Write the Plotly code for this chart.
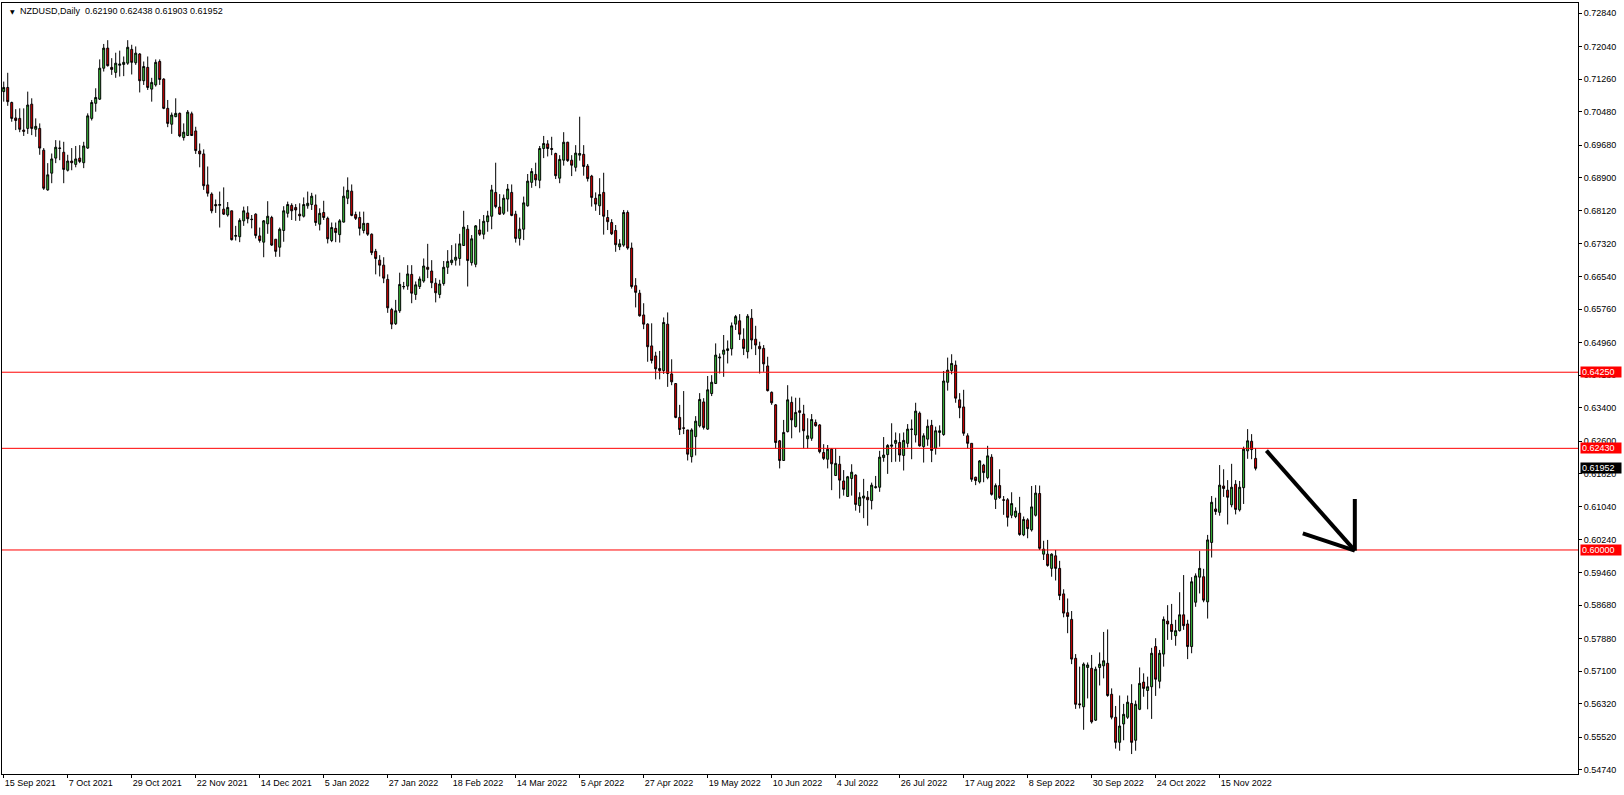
import plotly.graph_objects as go

# ---------------- data (NZDUSD daily) ----------------
opens = [
0.7096,0.7106,0.7070,0.7033,0.7032,0.7004,0.7008,0.7066,0.7006,0.7008,
0.6956,0.6861,0.6901,0.6937,0.6960,0.6951,0.6908,0.6930,0.6922,0.6937,
0.6926,0.6961,0.7032,0.7068,0.7078,0.7152,0.7200,0.7154,0.7142,0.7159,
0.7161,0.7164,0.7197,0.7165,0.7186,0.7122,0.7154,0.7102,0.7112,0.7168,
0.7126,0.7056,0.7018,0.7036,0.7044,0.6986,0.6991,0.7043,0.7002,0.6954,
0.6947,0.6873,0.6851,0.6826,0.6824,0.6815,0.6801,0.6811,0.6750,0.6749,
0.6787,0.6806,0.6791,0.6803,0.6751,0.6736,0.6780,0.6795,0.6743,0.6724,
0.6764,0.6805,0.6824,0.6819,0.6803,0.6798,0.6823,0.6826,0.6825,0.6779,
0.6807,0.6793,0.6740,0.6769,0.6754,0.6784,0.6841,0.6858,0.6802,0.6795,
0.6764,0.6781,0.6755,0.6714,0.6693,0.6681,0.6647,0.6575,0.6541,0.6572,
0.6629,0.6631,0.6659,0.6611,0.6630,0.6643,0.6676,0.6667,0.6638,0.6611,
0.6637,0.6676,0.6687,0.6693,0.6697,0.6728,0.6767,0.6687,0.6683,0.6765,
0.6755,0.6785,0.6798,0.6855,0.6820,0.6805,0.6839,0.6855,0.6803,0.6745,
0.6767,0.6823,0.6879,0.6898,0.6884,0.6960,0.6971,0.6960,0.6948,0.6889,
0.6932,0.6975,0.6932,0.6915,0.6944,0.6946,0.6918,0.6894,0.6841,0.6823,
0.6855,0.6795,0.6783,0.6764,0.6725,0.6729,0.6807,0.6722,0.6632,0.6614,
0.6562,0.6540,0.6488,0.6464,0.6434,0.6429,0.6540,0.6421,0.6398,0.6317,
0.6292,0.6287,0.6223,0.6271,0.6297,0.6354,0.6289,0.6374,0.6398,0.6459,
0.6468,0.6477,0.6481,0.6540,0.6548,0.6504,0.6474,0.6554,0.6504,0.6487,
0.6482,0.6440,0.6377,0.6347,0.6261,0.6214,0.6283,0.6353,0.6295,0.6333,
0.6325,0.6266,0.6267,0.6305,0.6299,0.6233,0.6217,0.6241,0.6178,0.6205,
0.6165,0.6128,0.6171,0.6179,0.6106,0.6124,0.6126,0.6118,0.6149,0.6150,
0.6221,0.6228,0.6248,0.6255,0.6257,0.6226,0.6255,0.6288,0.6275,0.6327,
0.6247,0.6265,0.6298,0.6243,0.6281,0.6276,0.6401,0.6429,0.6442,0.6359,
0.6342,0.6273,0.6255,0.6174,0.6163,0.6203,0.6173,0.6222,0.6121,0.6154,
0.6120,0.6120,0.6083,0.6080,0.6088,0.6036,0.6072,0.6048,0.6083,0.6135,
0.5990,0.5990,0.5956,0.5986,0.5956,0.5895,0.5850,0.5834,0.5741,0.5632,
0.5625,0.5719,0.5717,0.5593,0.5719,0.5723,0.5729,0.5655,0.5600,0.5540,
0.5584,0.5600,0.5633,0.5545,0.5619,0.5684,0.5664,0.5673,0.5769,0.5686,
0.5751,0.5830,0.5822,0.5795,0.5807,0.5845,0.5823,0.5769,0.5875,0.5935,
0.5936,0.5876,0.6018,0.6098,0.6090,0.6153,0.6143,0.6108,0.6157,0.6096,
0.6149,0.6237,0.6260,0.62190]

highs = [
0.7120,0.7141,0.7072,0.7054,0.7056,0.7056,0.7096,0.7080,0.7032,0.7020,
0.6961,0.6925,0.6948,0.6980,0.6979,0.6976,0.6945,0.6961,0.6966,0.6968,
0.6976,0.7044,0.7076,0.7104,0.7173,0.7210,0.7219,0.7176,0.7189,0.7194,
0.7180,0.7219,0.7208,0.7204,0.7188,0.7168,0.7180,0.7129,0.7173,0.7173,
0.7128,0.7076,0.7046,0.7080,0.7046,0.7020,0.7052,0.7048,0.7012,0.6972,
0.6958,0.6917,0.6855,0.6838,0.6857,0.6867,0.6832,0.6811,0.6775,0.6793,
0.6821,0.6822,0.6801,0.6805,0.6771,0.6789,0.6834,0.6799,0.6743,0.6771,
0.6822,0.6833,0.6829,0.6827,0.6829,0.6843,0.6857,0.6854,0.6850,0.6817,
0.6835,0.6797,0.6783,0.6783,0.6791,0.6869,0.6891,0.6874,0.6809,0.6809,
0.6809,0.6781,0.6757,0.6720,0.6705,0.6700,0.6659,0.6579,0.6598,0.6663,
0.6641,0.6681,0.6681,0.6642,0.6654,0.6697,0.6732,0.6693,0.6650,0.6646,
0.6691,0.6717,0.6729,0.6733,0.6756,0.6811,0.6777,0.6753,0.6777,0.6791,
0.6801,0.6811,0.6873,0.6926,0.6851,0.6850,0.6875,0.6874,0.6811,0.6795,
0.6845,0.6899,0.6913,0.6926,0.6966,0.6990,0.6980,0.6988,0.6950,0.6944,
0.6999,0.6976,0.6944,0.6968,0.7036,0.6968,0.6923,0.6897,0.6855,0.6889,
0.6902,0.6813,0.6791,0.6777,0.6743,0.6813,0.6812,0.6735,0.6650,0.6622,
0.6590,0.6542,0.6542,0.6474,0.6476,0.6556,0.6568,0.6456,0.6398,0.6347,
0.6380,0.6287,0.6291,0.6320,0.6375,0.6363,0.6416,0.6418,0.6494,0.6470,
0.6514,0.6501,0.6544,0.6562,0.6564,0.6530,0.6564,0.6576,0.6536,0.6498,
0.6490,0.6462,0.6379,0.6349,0.6263,0.6311,0.6394,0.6367,0.6364,0.6364,
0.6347,0.6315,0.6325,0.6312,0.6301,0.6253,0.6251,0.6243,0.6243,0.6225,
0.6191,0.6177,0.6205,0.6181,0.6138,0.6170,0.6141,0.6161,0.6177,0.6237,
0.6270,0.6253,0.6303,0.6281,0.6279,0.6281,0.6301,0.6312,0.6352,0.6331,
0.6279,0.6312,0.6311,0.6295,0.6298,0.6428,0.6460,0.6468,0.6453,0.6375,
0.6383,0.6279,0.6255,0.6175,0.6215,0.6206,0.6249,0.6229,0.6159,0.6193,
0.6129,0.6124,0.6138,0.6102,0.6127,0.6080,0.6076,0.6153,0.6155,0.6154,
0.6022,0.6024,0.5992,0.6000,0.5974,0.5906,0.5884,0.5854,0.5751,0.5721,
0.5731,0.5731,0.5749,0.5721,0.5755,0.5804,0.5810,0.5669,0.5627,0.5652,
0.5632,0.5652,0.5679,0.5640,0.5719,0.5705,0.5697,0.5766,0.5789,0.5761,
0.5841,0.5868,0.5871,0.5833,0.5899,0.5940,0.5833,0.5935,0.5944,0.5998,
0.5955,0.6036,0.6129,0.6125,0.6203,0.6193,0.6167,0.6206,0.6167,0.6165,
0.6247,0.6289,0.6277,0.62438]

lows = [
0.7072,0.7062,0.7024,0.7004,0.6999,0.6990,0.6995,0.6992,0.6988,0.6945,
0.6861,0.6859,0.6877,0.6925,0.6932,0.6877,0.6905,0.6908,0.6915,0.6925,
0.6913,0.6959,0.7027,0.7048,0.7076,0.7144,0.7156,0.7136,0.7129,0.7132,
0.7133,0.7160,0.7137,0.7160,0.7094,0.7112,0.7100,0.7072,0.7108,0.7112,
0.7054,0.7011,0.6995,0.7035,0.6987,0.6979,0.6990,0.6990,0.6947,0.6915,
0.6861,0.6845,0.6805,0.6806,0.6771,0.6801,0.6797,0.6740,0.6740,0.6736,
0.6775,0.6781,0.6769,0.6745,0.6735,0.6700,0.6756,0.6727,0.6701,0.6701,
0.6737,0.6795,0.6789,0.6787,0.6787,0.6795,0.6816,0.6813,0.6775,0.6764,
0.6789,0.6733,0.6736,0.6736,0.6735,0.6783,0.6827,0.6798,0.6789,0.6752,
0.6757,0.6751,0.6705,0.6659,0.6654,0.6638,0.6567,0.6528,0.6538,0.6567,
0.6623,0.6622,0.6590,0.6598,0.6624,0.6639,0.6650,0.6626,0.6592,0.6602,
0.6632,0.6660,0.6681,0.6680,0.6680,0.6727,0.6630,0.6680,0.6676,0.6751,
0.6743,0.6761,0.6767,0.6817,0.6801,0.6801,0.6809,0.6798,0.6735,0.6728,
0.6741,0.6821,0.6866,0.6870,0.6865,0.6937,0.6941,0.6944,0.6887,0.6877,
0.6919,0.6928,0.6894,0.6905,0.6931,0.6895,0.6881,0.6821,0.6811,0.6801,
0.6754,0.6765,0.6753,0.6713,0.6717,0.6725,0.6718,0.6625,0.6580,0.6558,
0.6528,0.6450,0.6446,0.6408,0.6408,0.6421,0.6390,0.6394,0.6315,0.6275,
0.6277,0.6214,0.6209,0.6226,0.6293,0.6288,0.6287,0.6368,0.6397,0.6422,
0.6414,0.6446,0.6465,0.6526,0.6502,0.6466,0.6458,0.6480,0.6466,0.6422,
0.6426,0.6379,0.6347,0.6243,0.6195,0.6213,0.6281,0.6267,0.6293,0.6281,
0.6243,0.6243,0.6261,0.6295,0.6231,0.6215,0.6195,0.6143,0.6177,0.6123,
0.6130,0.6127,0.6130,0.6094,0.6089,0.6076,0.6058,0.6097,0.6147,0.6139,
0.6211,0.6182,0.6210,0.6211,0.6211,0.6190,0.6245,0.6217,0.6257,0.6247,
0.6209,0.6249,0.6210,0.6228,0.6247,0.6273,0.6381,0.6420,0.6352,0.6315,
0.6273,0.6243,0.6163,0.6155,0.6159,0.6162,0.6169,0.6130,0.6098,0.6122,
0.6084,0.6056,0.6076,0.6076,0.6034,0.6033,0.6028,0.6044,0.6080,0.6000,
0.5976,0.5960,0.5936,0.5927,0.5880,0.5839,0.5801,0.5727,0.5620,0.5621,
0.5570,0.5645,0.5585,0.5591,0.5676,0.5693,0.5649,0.5595,0.5525,0.5520,
0.5545,0.5596,0.5512,0.5520,0.5617,0.5649,0.5619,0.5596,0.5651,0.5669,
0.5721,0.5785,0.5785,0.5771,0.5805,0.5809,0.5739,0.5753,0.5864,0.5896,
0.5875,0.5836,0.5982,0.6084,0.6082,0.6127,0.6061,0.6102,0.6085,0.6092,
0.6110,0.6218,0.6217,0.61903]

closes = [
0.7106,0.7072,0.7032,0.7027,0.7006,0.7001,0.7064,0.7008,0.7013,0.6961,
0.6865,0.6897,0.6935,0.6963,0.6961,0.6910,0.6930,0.6926,0.6935,0.6929,
0.6966,0.7038,0.7070,0.7082,0.7152,0.7200,0.7158,0.7149,0.7164,0.7162,
0.7166,0.7202,0.7166,0.7188,0.7122,0.7156,0.7106,0.7118,0.7166,0.7125,
0.7056,0.7020,0.7040,0.7044,0.6990,0.6999,0.7047,0.6991,0.6955,0.6947,
0.6871,0.6853,0.6811,0.6823,0.6826,0.6803,0.6819,0.6742,0.6752,0.6788,
0.6811,0.6792,0.6790,0.6752,0.6740,0.6787,0.6798,0.6729,0.6714,0.6767,
0.6811,0.6826,0.6811,0.6813,0.6799,0.6826,0.6829,0.6846,0.6783,0.6805,
0.6795,0.6744,0.6771,0.6759,0.6787,0.6846,0.6860,0.6800,0.6793,0.6769,
0.6781,0.6755,0.6711,0.6697,0.6681,0.6650,0.6579,0.6540,0.6572,0.6635,
0.6630,0.6660,0.6614,0.6634,0.6648,0.6679,0.6671,0.6639,0.6615,0.6636,
0.6676,0.6690,0.6693,0.6700,0.6732,0.6772,0.6692,0.6744,0.6775,0.6755,
0.6786,0.6799,0.6861,0.6821,0.6803,0.6841,0.6863,0.6800,0.6745,0.6767,
0.6830,0.6882,0.6905,0.6885,0.6960,0.6972,0.6960,0.6958,0.6895,0.6934,
0.6975,0.6931,0.6920,0.6949,0.6948,0.6917,0.6888,0.6843,0.6827,0.6850,
0.6798,0.6785,0.6756,0.6730,0.6732,0.6807,0.6722,0.6630,0.6616,0.6560,
0.6540,0.6486,0.6453,0.6433,0.6429,0.6544,0.6422,0.6402,0.6317,0.6288,
0.6291,0.6229,0.6287,0.6308,0.6360,0.6293,0.6383,0.6401,0.6466,0.6461,
0.6478,0.6481,0.6536,0.6558,0.6516,0.6482,0.6559,0.6502,0.6490,0.6481,
0.6445,0.6381,0.6352,0.6257,0.6214,0.6281,0.6359,0.6311,0.6329,0.6329,
0.6285,0.6273,0.6312,0.6297,0.6235,0.6219,0.6241,0.6206,0.6207,0.6167,
0.6145,0.6175,0.6186,0.6109,0.6126,0.6129,0.6120,0.6155,0.6151,0.6222,
0.6227,0.6250,0.6251,0.6262,0.6227,0.6262,0.6289,0.6289,0.6332,0.6249,
0.6273,0.6296,0.6238,0.6285,0.6285,0.6404,0.6430,0.6446,0.6363,0.6340,
0.6279,0.6255,0.6169,0.6166,0.6213,0.6185,0.6225,0.6133,0.6154,0.6125,
0.6119,0.6078,0.6111,0.6093,0.6037,0.6073,0.6051,0.6103,0.6136,0.6004,
0.6002,0.5963,0.5990,0.5956,0.5891,0.5849,0.5841,0.5739,0.5631,0.5630,
0.5727,0.5725,0.5589,0.5715,0.5727,0.5735,0.5652,0.5600,0.5540,0.5579,
0.5607,0.5636,0.5540,0.5631,0.5681,0.5669,0.5673,0.5753,0.5691,0.5753,
0.5834,0.5823,0.5805,0.5807,0.5845,0.5819,0.5769,0.5924,0.5938,0.5956,
0.5880,0.6024,0.6114,0.6092,0.6155,0.6147,0.6126,0.6150,0.6097,0.6150,
0.6241,0.6261,0.6240,0.61952]

# date labels every 16 bars
date_labels = ["15 Sep 2021", "7 Oct 2021", "29 Oct 2021", "22 Nov 2021", "14 Dec 2021",
               "5 Jan 2022", "27 Jan 2022", "18 Feb 2022", "14 Mar 2022", "5 Apr 2022",
               "27 Apr 2022", "19 May 2022", "10 Jun 2022", "4 Jul 2022", "26 Jul 2022",
               "17 Aug 2022", "8 Sep 2022", "30 Sep 2022", "24 Oct 2022", "15 Nov 2022"]
date_positions = [16 * i for i in range(len(date_labels))]

price_ticks = ["0.72840", "0.72040", "0.71260", "0.70480", "0.69680", "0.68900", "0.68120",
               "0.67320", "0.66540", "0.65760", "0.64960", "0.64180", "0.63400", "0.62600",
               "0.61820", "0.61040", "0.60240", "0.59460", "0.58680", "0.57880", "0.57100",
               "0.56320", "0.55520", "0.54740"]

level_prices = [0.64250, 0.62430, 0.60000]
last_price = 0.61952

# hand-drawn arrow (bar index, price)
arrow_shaft_x = [315.7, 337.8]
arrow_shaft_y = [0.62374, 0.59983]
arrow_barb_x = [324.8, 337.8]
arrow_barb_y = [0.60398, 0.59983]
arrow_vert_x = [337.8, 337.8]
arrow_vert_y = [0.61219, 0.59983]

FONT = "Liberation Sans"
bars = list(range(len(opens)))

fig = go.Figure()
fig.add_trace(go.Candlestick(
    x=bars, open=opens, high=highs, low=lows, close=closes,
    increasing=dict(line=dict(color="black", width=1), fillcolor="#3cc43c"),
    decreasing=dict(line=dict(color="black", width=1), fillcolor="#e00000"),
    whiskerwidth=0, hoverinfo="skip", showlegend=False,
))

shapes = []
for lp in level_prices:
    shapes.append(dict(type="line", xref="paper", x0=0, x1=1, yref="y", y0=lp, y1=lp,
                       line=dict(color="#ff0000", width=1), layer="above"))
for xs, ys in [(arrow_shaft_x, arrow_shaft_y), (arrow_barb_x, arrow_barb_y), (arrow_vert_x, arrow_vert_y)]:
    shapes.append(dict(type="line", xref="x", yref="y", x0=xs[0], x1=xs[1], y0=ys[0], y1=ys[1],
                       line=dict(color="black", width=4), layer="above"))

annotations = []
for lp in level_prices:
    annotations.append(dict(xref="paper", x=1.0013, xanchor="left", yref="y", y=lp, yanchor="middle",
                            text=f"{lp:.5f}", showarrow=False, bgcolor="#ff0000",
                            font=dict(family=FONT, size=9, color="white"),
                            width=38, height=8, align="left", borderpad=1))
annotations.append(dict(xref="paper", x=1.0013, xanchor="left", yref="y", y=last_price, yanchor="middle",
                        text=f"{last_price:.5f}", showarrow=False, bgcolor="black",
                        font=dict(family=FONT, size=9, color="white"),
                        width=38, height=8, align="left", borderpad=1))
annotations.append(dict(xref="paper", x=0.0035, xanchor="left", yref="paper", y=0.9896, yanchor="middle",
                        text="\u25BC", showarrow=False, font=dict(family="DejaVu Sans", size=6, color="black")))
annotations.append(dict(xref="paper", x=0.0102, xanchor="left", yref="paper", y=0.9896, yanchor="middle",
                        text="NZDUSD,Daily\u00a0\u00a00.62190 0.62438 0.61903 0.61952", showarrow=False,
                        font=dict(family=FONT, size=9, color="black")))

fig.update_layout(
    width=1624, height=795,
    margin=dict(l=2, r=46, t=3, b=21),
    paper_bgcolor="white", plot_bgcolor="white",
    showlegend=False,
    shapes=shapes, annotations=annotations,
    xaxis=dict(range=[-0.43, 393.6], showgrid=False, zeroline=False,
               showline=True, mirror=True, linecolor="black", linewidth=1,
               ticks="outside", ticklen=3, tickcolor="black",
               tickvals=date_positions, ticktext=date_labels,
               ticklabelposition="outside right",
               tickfont=dict(family=FONT, size=9, color="black"),
               rangeslider=dict(visible=False), automargin=False, fixedrange=True),
    yaxis=dict(range=[0.54643, 0.73079], side="right", showgrid=False, zeroline=False,
               showline=True, mirror=True, linecolor="black", linewidth=1,
               ticks="outside", ticklen=3, tickcolor="black",
               tickvals=[float(t) for t in price_ticks], ticktext=price_ticks,
               tickfont=dict(family=FONT, size=9, color="black"),
               automargin=False, fixedrange=True),
)

fig.write_html("out.html", config={"displayModeBar": False},
               post_script="document.body.style.margin='0';document.body.style.overflow='hidden';")
